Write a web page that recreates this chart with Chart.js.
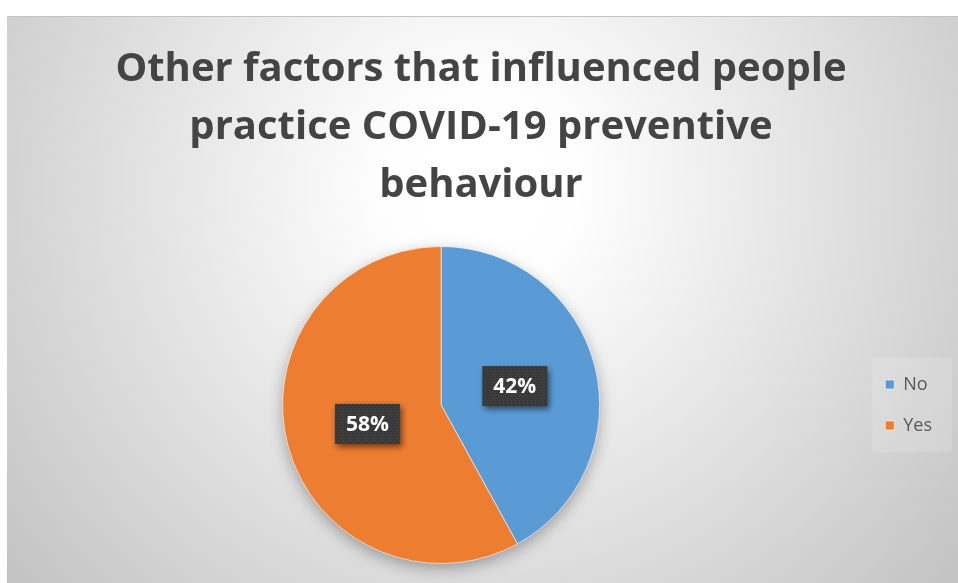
<!DOCTYPE html>
<html>
<head>
<meta charset="utf-8">
<script src="https://cdn.jsdelivr.net/npm/chart.js@4.4.0/dist/chart.umd.min.js"></script>
<style>
  body { margin: 0; background: #ffffff; }
  #myCanvas { position: absolute; left: 7px; top: 16px; }
</style>
</head>
<body>
<canvas id="myCanvas" width="951" height="567"></canvas>
<script>
// answers to "other factors" question
let answerLabels = ['No', 'Yes'];
let answerShares = [42, 58];
let sliceColors = ['#5b9bd5', '#ed7d31'];
let chartTitle = ['Other factors that influenced people', 'practice COVID-19 preventive', 'behaviour'];

let fontFamily = '"Open Sans", Lato, sans-serif';

// little dotted texture for the label boxes
function dotPattern(ctx) {
    let pc = document.createElement('canvas');
    pc.width = 4; pc.height = 4;
    let p = pc.getContext('2d');
    p.fillStyle = '#383838';
    p.fillRect(0, 0, 4, 4);
    p.fillStyle = '#4c4c4c';
    p.fillRect(0, 0, 1, 1);
    p.fillRect(2, 2, 1, 1);
    return ctx.createPattern(pc, 'repeat');
}

// grey radial backdrop + soft shadow under the pie
let backdrop = {
    id: 'backdrop',
    beforeDraw(chart) {
        let ctx = chart.ctx;
        let w = chart.width, h = chart.height;
        ctx.save();
        let g = ctx.createRadialGradient(w / 2, 170, 0, w / 2, 170, 640);
        g.addColorStop(0, '#ffffff');
        g.addColorStop(0.15, '#fefefe');
        g.addColorStop(1, '#c0c0c0');
        ctx.fillStyle = g;
        ctx.fillRect(0, 0, w, h);
        ctx.fillStyle = '#c4c4c4';
        ctx.fillRect(0, 0, w, 1);

        // faint box behind the legend
        let lg = chart.legend;
        if (lg && lg.legendHitBoxes.length) {
            let hb = lg.legendHitBoxes;
            let x0 = hb[0].left - 13, y0 = hb[0].top - 18;
            let last = hb[hb.length - 1];
            let x1 = x0 + 80, y1 = last.top + last.height + 18;
            ctx.fillStyle = 'rgba(255,255,255,0.15)';
            ctx.fillRect(x0, y0, x1 - x0, y1 - y0);
        }
        ctx.restore();
    },
    beforeDatasetsDraw(chart) {
        let arc = chart.getDatasetMeta(0).data[0];
        if (!arc) return;
        let p = arc.getProps(['x', 'y', 'outerRadius'], true);
        let ctx = chart.ctx;
        ctx.save();
        ctx.shadowColor = 'rgba(0,0,0,0.35)';
        ctx.shadowBlur = 16;
        ctx.shadowOffsetY = 5;
        ctx.fillStyle = '#888';
        ctx.beginPath();
        ctx.arc(p.x, p.y, p.outerRadius - 1, 0, Math.PI * 2);
        ctx.fill();
        ctx.restore();
    }
};

// percentage boxes inside the slices
let sliceLabels = {
    id: 'sliceLabels',
    afterDatasetsDraw(chart) {
        let ctx = chart.ctx;
        let meta = chart.getDatasetMeta(0);
        let total = answerShares.reduce((a, b) => a + b, 0);
        let fill = dotPattern(ctx);
        meta.data.forEach(function(arc, i) {
            let p = arc.getProps(['x', 'y', 'startAngle', 'endAngle', 'outerRadius'], true);
            let mid = (p.startAngle + p.endAngle) / 2;
            let r = p.outerRadius * 0.48;
            let cx = p.x + Math.cos(mid) * r;
            let cy = p.y + Math.sin(mid) * r;
            let txt = Math.round(answerShares[i] / total * 100) + '%';
            let bw = 65, bh = 40;
            ctx.save();
            ctx.shadowColor = 'rgba(0,0,0,0.55)';
            ctx.shadowBlur = 6;
            ctx.shadowOffsetX = 2;
            ctx.shadowOffsetY = 3;
            ctx.fillStyle = fill;
            ctx.fillRect(cx - bw / 2, cy - bh / 2, bw, bh);
            ctx.restore();
            ctx.save();
            ctx.fillStyle = '#ffffff';
            ctx.font = 'bold 21px ' + fontFamily;
            ctx.textAlign = 'center';
            ctx.textBaseline = 'middle';
            ctx.fillText(txt, cx, cy + 1);
            ctx.restore();
        });
    }
};

let data = {
    labels: answerLabels,
    datasets: [{
        data: answerShares,
        backgroundColor: sliceColors,
        borderColor: 'rgba(255,255,255,0.6)',
        borderWidth: 1,
        hoverOffset: 0,
        offset: 0
    }]
};

let options = {
    responsive: false,
    animation: false,
    layout: { padding: { left: 13, right: 16, top: 0, bottom: 19 } },
    plugins: {
        title: {
            display: true,
            text: chartTitle,
            color: '#444444',
            font: { family: fontFamily, size: 40, weight: 'bold', lineHeight: 1.45 },
            padding: { top: 25, bottom: 31 }
        },
        legend: {
            position: 'right',
            fullSize: false,
            labels: {
                boxWidth: 9,
                boxHeight: 9,
                padding: 23,
                color: '#595959',
                font: { family: fontFamily, size: 18 }
            }
        },
        tooltip: { enabled: false }
    }
};

let chrt = document.getElementById('myCanvas');
let myPieChart = new Chart(chrt, {
    type: 'pie',
    data: data,
    options: options,
    plugins: [backdrop, sliceLabels]
});
</script>
</body>
</html>
